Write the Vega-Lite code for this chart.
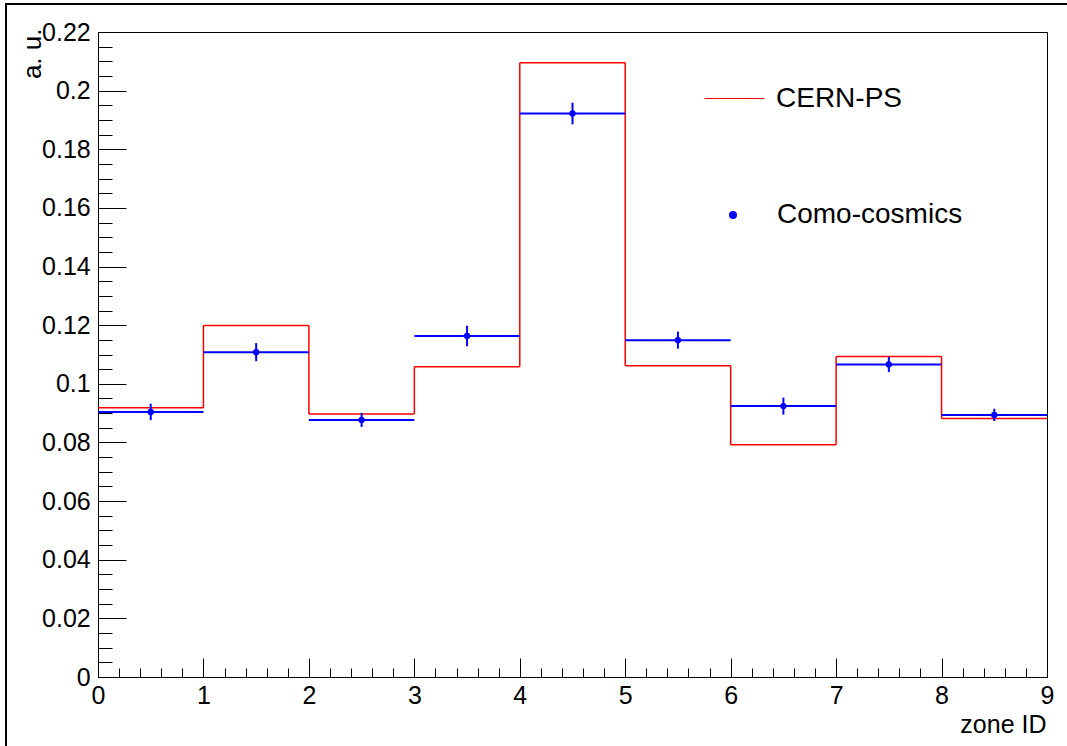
{
  "$schema": "https://vega.github.io/schema/vega-lite/v6.json",
  "width": 1075,
  "height": 760,
  "autosize": {"type": "none"},
  "padding": {"left": 6, "top": 4, "right": -14, "bottom": -18},
  "background": "white",
  "config": {
    "view": {"stroke": "#000000", "strokeWidth": 2, "fill": "white"},
    "axis": {
      "grid": false,
      "labelFont": "Liberation Sans",
      "titleFont": "Liberation Sans",
      "labelColor": "#000000",
      "titleColor": "#000000",
      "domainColor": "#000000",
      "tickColor": "#000000",
      "labelFontSize": 25,
      "titleFontWeight": "normal",
      "labelOverlap": false,
      "labelFlush": false,
      "labelBound": false,
      "domainWidth": 1,
      "tickWidth": 1
    },
    "legend": {"labelFont": "Liberation Sans", "labelFontSize": 28, "labelColor": "#000000", "labelLimit": 0}
  },
  "data": {
    "values": [
      {"lo": 0, "hi": 1, "zone": 0.5, "cern": 0.0918, "como": 0.0904, "err": 0.0028},
      {"lo": 1, "hi": 2, "zone": 1.5, "cern": 0.1199, "como": 0.1108, "err": 0.0031},
      {"lo": 2, "hi": 3, "zone": 2.5, "cern": 0.0897, "como": 0.0877, "err": 0.0024},
      {"lo": 3, "hi": 4, "zone": 3.5, "cern": 0.1058, "como": 0.1163, "err": 0.0035},
      {"lo": 4, "hi": 5, "zone": 4.5, "cern": 0.2095, "como": 0.1922, "err": 0.0037},
      {"lo": 5, "hi": 6, "zone": 5.5, "cern": 0.1062, "como": 0.1149, "err": 0.0029},
      {"lo": 6, "hi": 7, "zone": 6.5, "cern": 0.0792, "como": 0.0924, "err": 0.0029},
      {"lo": 7, "hi": 8, "zone": 7.5, "cern": 0.1093, "como": 0.1066, "err": 0.0026},
      {"lo": 8, "hi": 9, "zone": 8.5, "cern": 0.0882, "como": 0.0894, "err": 0.0021}
    ]
  },
  "layer": [
    {
      "mark": {"type": "rule", "strokeWidth": 1.5},
      "encoding": {
        "x": {
          "field": "lo", "type": "quantitative",
          "scale": {"domain": [0, 9], "range": [92, 1041], "nice": false, "zero": false},
          "axis": {
            "orient": "bottom", "offset": -87, "tickCount": 9, "tickSize": -19,
            "labelPadding": 25.5, "format": "~g",
            "title": "zone ID", "titleFontSize": 25, "titleX": 1040, "titleY": 55,
            "titleAlign": "right", "titleBaseline": "alphabetic", "titleAngle": 0
          }
        },
        "x2": {"field": "hi"},
        "y": {
          "field": "cern", "type": "quantitative",
          "scale": {"domain": [0, 0.22], "range": [673, 28], "nice": false, "zero": false},
          "axis": {
            "orient": "left", "offset": -92, "tickCount": 11, "tickSize": -28,
            "labelPadding": 35.8, "format": "~g",
            "title": "a. u.", "titleFontSize": 26, "titleAngle": -90,
            "titleAlign": "right", "titleBaseline": "alphabetic", "titleX": -58, "titleY": 24
          }
        },
        "stroke": {
          "datum": "CERN-PS", "type": "nominal",
          "scale": {"range": ["#ff0000"]},
          "legend": {
            "orient": "none", "legendX": 698, "legendY": 64, "title": null,
            "symbolType": "stroke", "symbolSize": 3600, "symbolStrokeWidth": 1,
            "symbolStrokeColor": "#ff0000", "labelOffset": 11, "padding": 0
          }
        }
      }
    },
    {
      "transform": [
        {"window": [{"op": "lead", "field": "cern", "as": "next"}], "sort": [{"field": "lo"}]},
        {"filter": "isValid(datum.next)"}
      ],
      "mark": {"type": "rule", "strokeWidth": 1.5},
      "encoding": {
        "x": {
          "field": "hi", "type": "quantitative",
          "scale": {"domain": [0, 9], "range": [92, 1041], "nice": false, "zero": false},
          "axis": {
            "orient": "bottom", "offset": -87, "tickCount": 45, "tickSize": -9,
            "labels": false, "domain": false, "title": null
          }
        },
        "y": {
          "field": "cern", "type": "quantitative",
          "scale": {"domain": [0, 0.22], "range": [673, 28], "nice": false, "zero": false},
          "axis": {
            "orient": "left", "offset": -92, "tickCount": 44, "tickSize": -14,
            "labels": false, "domain": false, "title": null
          }
        },
        "y2": {"field": "next"},
        "stroke": {"datum": "CERN-PS", "type": "nominal"}
      }
    },
    {
      "mark": {"type": "rule", "strokeWidth": 2},
      "encoding": {
        "x": {
          "field": "lo", "type": "quantitative",
          "scale": {"domain": [0, 9], "range": [92, 1041], "nice": false, "zero": false},
          "axis": {"orient": "top", "offset": -28, "ticks": false, "labels": false, "title": null}
        },
        "x2": {"field": "hi"},
        "y": {
          "field": "como", "type": "quantitative",
          "scale": {"domain": [0, 0.22], "range": [673, 28], "nice": false, "zero": false},
          "axis": {"orient": "right", "offset": -34, "ticks": false, "labels": false, "title": null}
        },
        "color": {
          "datum": "Como-cosmics", "type": "nominal",
          "scale": {"range": ["#0000ff"]},
          "legend": {
            "orient": "none", "legendX": 713, "legendY": 197, "title": null,
            "symbolType": "circle", "symbolSize": 64, "symbolFillColor": "#0000ff",
            "symbolStrokeColor": "#0000ff", "symbolStrokeWidth": 0,
            "labelOffset": 30, "padding": 0
          }
        }
      }
    },
    {
      "mark": {"type": "errorbar", "thickness": 2},
      "encoding": {
        "x": {
          "field": "zone", "type": "quantitative",
          "scale": {"domain": [0, 9], "range": [92, 1041], "nice": false, "zero": false},
          "axis": null
        },
        "y": {
          "field": "como", "type": "quantitative",
          "scale": {"domain": [0, 0.22], "range": [673, 28], "nice": false, "zero": false},
          "axis": null
        },
        "yError": {"field": "err"},
        "color": {"datum": "Como-cosmics", "type": "nominal"}
      }
    },
    {
      "mark": {"type": "point", "filled": true, "shape": "circle", "size": 40, "opacity": 1},
      "encoding": {
        "x": {
          "field": "zone", "type": "quantitative",
          "scale": {"domain": [0, 9], "range": [92, 1041], "nice": false, "zero": false},
          "axis": null
        },
        "y": {
          "field": "como", "type": "quantitative",
          "scale": {"domain": [0, 0.22], "range": [673, 28], "nice": false, "zero": false},
          "axis": null
        },
        "color": {"datum": "Como-cosmics", "type": "nominal"}
      }
    }
  ],
  "resolve": {"axis": {"x": "independent", "y": "independent"}}
}
